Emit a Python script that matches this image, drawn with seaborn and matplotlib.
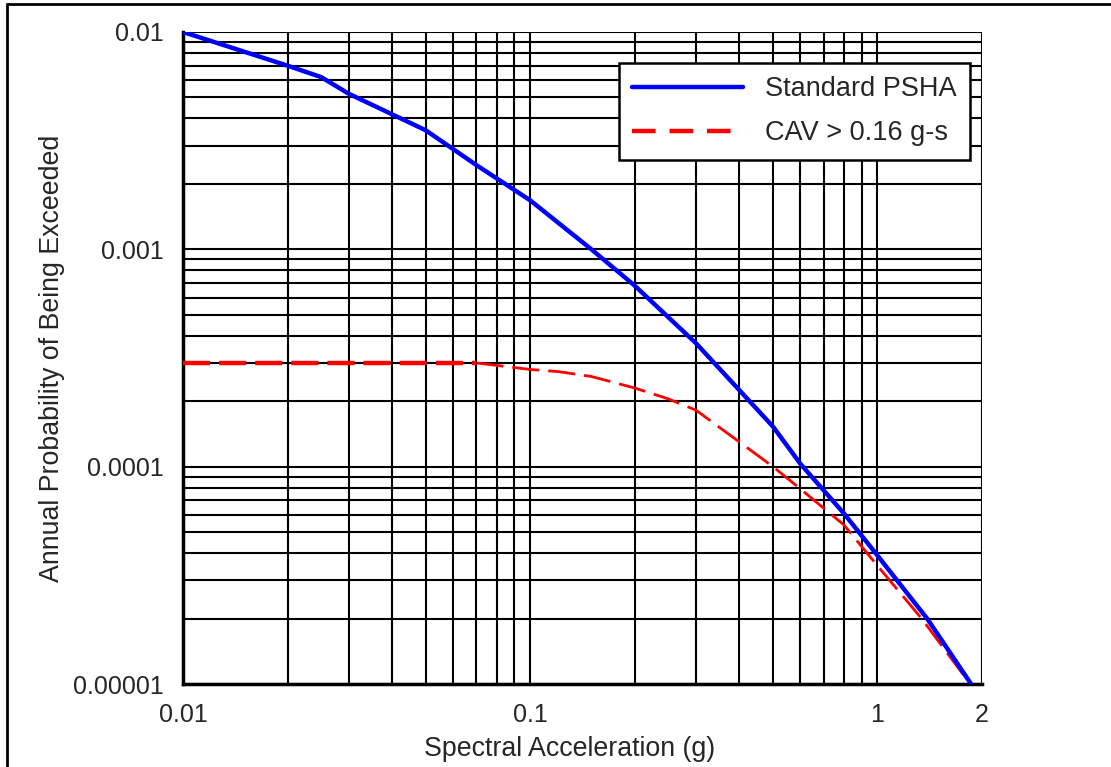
import numpy as np
import pandas as pd
import seaborn as sns
import matplotlib.pyplot as plt
from matplotlib.lines import Line2D

# Hazard curves
psha_sa = [0.01, 0.02, 0.025, 0.03, 0.05, 0.07, 0.1, 0.15, 0.2, 0.3, 0.5, 0.6, 0.8, 1.0, 1.39, 1.86]
psha_prob = [0.01, 0.0070, 0.0062, 0.0052, 0.00353, 0.00244, 0.00168, 0.001, 0.00068, 0.00037,
             0.000153, 0.000103, 0.000061, 0.000039, 0.00002, 0.00001]

cav_sa = [0.01, 0.07, 0.1, 0.12, 0.15, 0.2, 0.25, 0.3, 0.4, 0.5, 0.6, 0.8, 1.0, 1.34, 1.85]
cav_prob = [0.0003, 0.0003, 0.00028, 0.000274, 0.00026, 0.00023, 0.000205, 0.000182, 0.00013,
            0.0001, 0.000079, 0.000054, 0.000035, 0.00002, 0.00001]

x_ticks = [0.01, 0.1, 1, 2]
x_labels = ["0.01", "0.1", "1", "2"]
y_ticks = [0.00001, 0.0001, 0.001, 0.01]
y_labels = ["0.00001", "0.0001", "0.001", "0.01"]

sns.set_style("white")
plt.rcParams['font.family'] = ['Liberation Sans', 'DejaVu Sans']
plt.rcParams['lines.scale_dashes'] = False

psha = pd.DataFrame({'sa': psha_sa, 'p': psha_prob})
cav = pd.DataFrame({'sa': cav_sa, 'p': cav_prob})

fig = plt.figure(figsize=(11.11, 7.67), dpi=100)
ax = fig.add_axes([0.1647, 0.1082, 0.7192, 0.8501])
ax.set_xscale('log')
ax.set_yscale('log')

# grid on every decade subdivision
ax.grid(True, which='both', color='black', linewidth=1.5)
ax.set_axisbelow(True)

dash = (0, (19.5, 6.5))
sns.lineplot(data=psha, x='sa', y='p', ax=ax, color='#0000ff', linewidth=3.2, zorder=4)
sns.lineplot(data=cav.iloc[:2], x='sa', y='p', ax=ax, color='#ff0000', linewidth=3.2,
             linestyle=dash, zorder=3)
sns.lineplot(data=cav.iloc[1:], x='sa', y='p', ax=ax, color='#ff0000', linewidth=2.0,
             linestyle=dash, zorder=3)

ax.set_xlim(0.01, 2)
ax.set_ylim(0.00001, 0.01)
ax.set_xticks(x_ticks)
ax.set_xticklabels(x_labels)
ax.set_yticks(y_ticks)
ax.set_yticklabels(y_labels)
ax.tick_params(axis='both', which='major', length=10, width=1.5, color='black',
               labelsize=18, pad=4, direction='out')
ax.tick_params(axis='x', which='minor', length=5, width=1.5, color='black', direction='out')
ax.tick_params(axis='y', which='minor', length=0)
ax.xaxis.set_minor_formatter(plt.NullFormatter())
ax.yaxis.set_minor_formatter(plt.NullFormatter())

for side in ['top', 'right']:
    ax.spines[side].set_visible(False)
ax.spines['left'].set_linewidth(2.5)
ax.spines['bottom'].set_linewidth(2.5)
ax.spines['left'].set_color('black')
ax.spines['bottom'].set_color('black')

ax.set_xlabel("Spectral Acceleration (g)", fontsize=19.3)
ax.xaxis.set_label_coords(0.484, -0.079)
ax.set_ylabel("Annual Probability of Being Exceeded", fontsize=19.3, labelpad=5.5)

handles = [Line2D([], [], color='#0000ff', linewidth=3.2),
           Line2D([], [], color='#ff0000', linewidth=3.2, linestyle=(0, (17, 10)))]
leg = ax.legend(handles, ["Standard PSHA", "CAV > 0.16 g-s"], loc='upper right',
                bbox_to_anchor=(0.985, 0.9525), fontsize=19.5, frameon=True, fancybox=False,
                framealpha=1, edgecolor='black', handlelength=4.1, handletextpad=0.8,
                borderpad=0.5, labelspacing=0.65, borderaxespad=0)
leg.get_frame().set_linewidth(1.8)
leg.set_zorder(10)

# cropped outer frame: top and left edges only
fig.add_artist(Line2D([7 / 1111, 7 / 1111], [0, 1 - 4 / 767], transform=fig.transFigure,
                      color='black', linewidth=2))
fig.add_artist(Line2D([7 / 1111, 1], [1 - 4 / 767, 1 - 4 / 767], transform=fig.transFigure,
                      color='black', linewidth=2))

fig.savefig("out.png", dpi=100)
